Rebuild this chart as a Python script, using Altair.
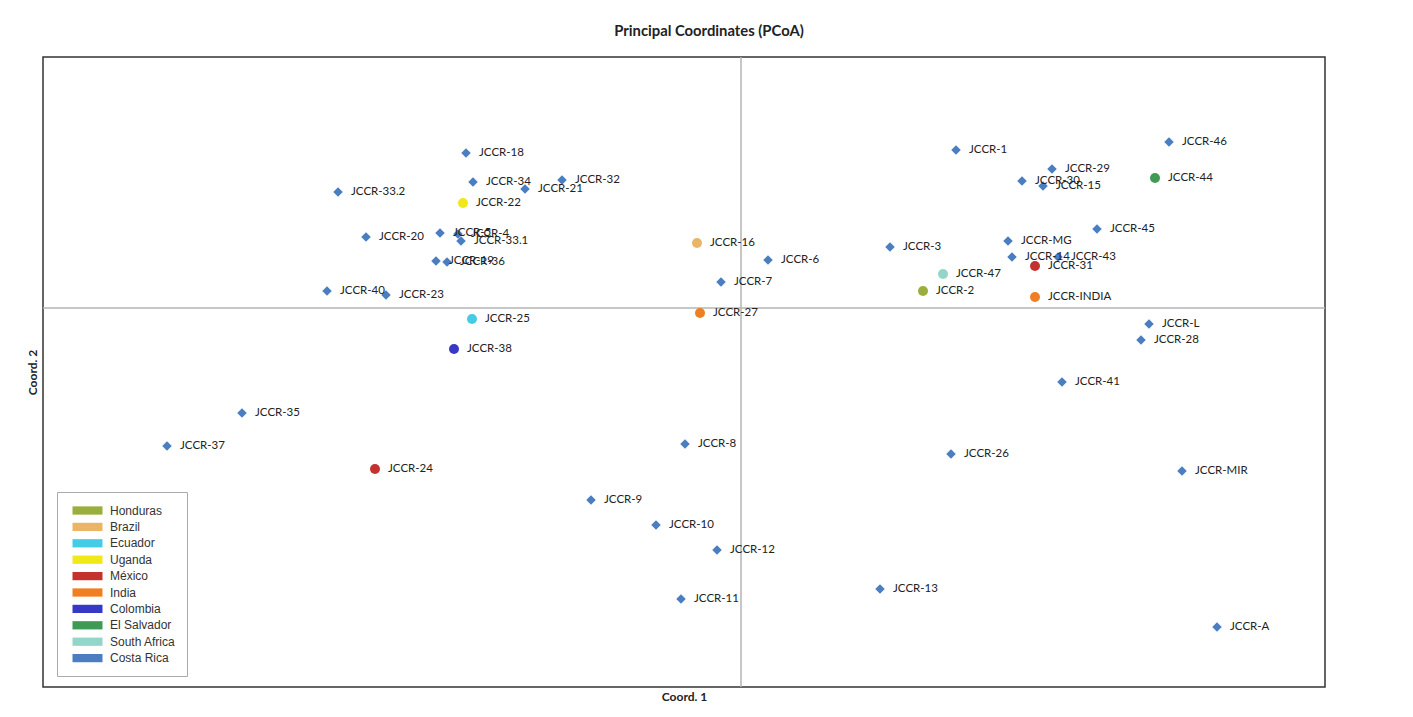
import altair as alt
import pandas as pd

names = ["JCCR-1", "JCCR-2", "JCCR-3", "JCCR-4", "JCCR-5", "JCCR-6", "JCCR-7", "JCCR-8",
         "JCCR-9", "JCCR-10", "JCCR-11", "JCCR-12", "JCCR-13", "JCCR-14", "JCCR-15",
         "JCCR-16", "JCCR-18", "JCCR-19", "JCCR-20", "JCCR-21", "JCCR-22", "JCCR-23",
         "JCCR-24", "JCCR-25", "JCCR-26", "JCCR-27", "JCCR-28", "JCCR-29", "JCCR-30",
         "JCCR-31", "JCCR-32", "JCCR-33.1", "JCCR-33.2", "JCCR-34", "JCCR-35", "JCCR-36",
         "JCCR-37", "JCCR-38", "JCCR-40", "JCCR-41", "JCCR-43", "JCCR-44", "JCCR-45",
         "JCCR-46", "JCCR-47", "JCCR-A", "JCCR-INDIA", "JCCR-L", "JCCR-MG", "JCCR-MIR"]
coord1 = [2.15, 1.82, 1.49, -2.83, -3.01, 0.27, -0.20, -0.56,
          -1.50, -0.85, -0.60, -0.24, 1.39, 2.71, 3.02,
          -0.44, -2.75, -3.05, -3.75, -2.16, -2.78, -3.55,
          -3.66, -2.69, 2.10, -0.41, 4.00, 3.11, 2.81,
          2.94, -1.79, -2.80, -4.03, -2.68, -4.99, -2.94,
          -5.74, -2.87, -4.14, 3.21, 3.17, 4.14, 3.56,
          4.28, 2.02, 4.76, 2.94, 4.08, 2.67, 4.41]
coord2 = [1.58, 0.17, 0.61, 0.74, 0.75, 0.48, 0.26, -1.36,
          -1.92, -2.17, -2.91, -2.42, -2.81, 0.51, 1.22,
          0.65, 1.55, 0.47, 0.71, 1.19, 1.05, 0.13,
          -1.61, -0.11, -1.46, -0.05, -0.32, 1.39, 1.27,
          0.42, 1.28, 0.67, 1.16, 1.26, -1.05, 0.46,
          -1.38, -0.41, 0.17, -0.74, 0.51, 1.30, 0.79,
          1.66, 0.34, -3.19, 0.11, -0.16, 0.67, -1.63]
country = ["Costa Rica", "Honduras", "Costa Rica", "Costa Rica", "Costa Rica", "Costa Rica",
           "Costa Rica", "Costa Rica", "Costa Rica", "Costa Rica", "Costa Rica", "Costa Rica",
           "Costa Rica", "Costa Rica", "Costa Rica", "Brazil", "Costa Rica", "Costa Rica",
           "Costa Rica", "Costa Rica", "Uganda", "Costa Rica", "México", "Ecuador",
           "Costa Rica", "India", "Costa Rica", "Costa Rica", "Costa Rica", "México",
           "Costa Rica", "Costa Rica", "Costa Rica", "Costa Rica", "Costa Rica", "Costa Rica",
           "Costa Rica", "Colombia", "Costa Rica", "Costa Rica", "Costa Rica", "El Salvador",
           "Costa Rica", "Costa Rica", "South Africa", "Costa Rica", "India", "Costa Rica",
           "Costa Rica", "Costa Rica"]

countries = ["Honduras", "Brazil", "Ecuador", "Uganda", "México", "India", "Colombia",
             "El Salvador", "South Africa", "Costa Rica"]
colors = ["#9aae3c", "#eab566", "#45cbe6", "#f0e817", "#c3322c", "#f07e22", "#3838c6",
          "#3e9a55", "#93d6c9", "#4a7ec0"]

df = pd.DataFrame({"name": names, "c1": coord1, "c2": coord2, "country": country})
df["marker"] = ["diamond" if c == "Costa Rica" else "circle" for c in country]

FONT = "Lato"
xscale = alt.Scale(domain=[-6.98, 5.84], nice=False, zero=False)
yscale = alt.Scale(domain=[-3.79, 2.51], nice=False, zero=False)

base = alt.Chart(df)

xaxis = alt.Axis(title="Coord. 1", domain=False, ticks=False, labels=False, grid=False,
                 titlePadding=4, titleFont=FONT, titleFontSize=12, titleFontWeight="bold",
                 titleColor="#222")
yaxis = alt.Axis(title="Coord. 2", domain=False, ticks=False, labels=False, grid=False,
                 titlePadding=4, titleFont=FONT, titleFontSize=12, titleFontWeight="bold",
                 titleColor="#222")

zero = pd.DataFrame({"v": [0.0]})
vrule = alt.Chart(zero).mark_rule(color="#b4b4b4", strokeWidth=1.5).encode(
    x=alt.X("v:Q", scale=xscale, axis=xaxis))
hrule = alt.Chart(zero).mark_rule(color="#b4b4b4", strokeWidth=1.5).encode(
    y=alt.Y("v:Q", scale=yscale, axis=yaxis))

points = base.mark_point(filled=True, opacity=1).encode(
    x=alt.X("c1:Q", scale=xscale, axis=xaxis),
    y=alt.Y("c2:Q", scale=yscale, axis=yaxis),
    color=alt.Color("country:N", scale=alt.Scale(domain=countries, range=colors),
                    legend=alt.Legend(title=None, orient="none", legendX=14, legendY=435,
                                      symbolType="M-0.4,-0.55H3.6V0.55H-0.4Z", symbolSize=225,
                                      symbolStrokeWidth=0, labelFont="Liberation Sans",
                                      labelFontSize=12, labelColor="#333",
                                      rowPadding=2.4, padding=11, strokeColor="#aaaaaa",
                                      labelOffset=27, symbolOpacity=1)),
    shape=alt.Shape("marker:N", scale=alt.Scale(domain=["diamond", "circle"],
                                                range=["diamond", "circle"]), legend=None),
    size=alt.Size("marker:N", scale=alt.Scale(domain=["diamond", "circle"],
                                              range=[90, 100]), legend=None),
)

labels = base.mark_text(align="left", baseline="middle", dx=13, font=FONT, fontSize=11.5,
                        color="#222").encode(
    x=alt.X("c1:Q", scale=xscale),
    y=alt.Y("c2:Q", scale=yscale),
    text="name:N",
)

chart = alt.layer(vrule, hrule, points, labels).properties(
    width=1282, height=630,
    background="white",
    title=alt.TitleParams("Principal Coordinates (PCoA)", font=FONT, fontSize=14.8,
                          fontWeight="bold", color="#222", offset=17, dx=25),
    autosize=alt.AutoSizeParams(type="none"),
    padding={"left": 43, "top": 57, "right": 88, "bottom": 30},
).configure_view(stroke="#333333", strokeWidth=1.5)

chart.save("out.html", embed_options={"renderer": "svg", "actions": False})
